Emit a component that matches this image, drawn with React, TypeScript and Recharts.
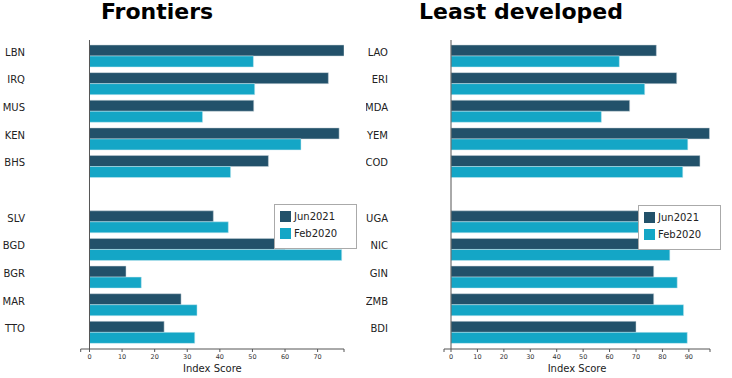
import React from "react";
import { BarChart, Bar, XAxis, YAxis, ReferenceLine, Legend } from "recharts";

const frontierCountries = ["LBN", "IRQ", "MUS", "KEN", "BHS", "", "SLV", "BGD", "BGR", "MAR", "TTO"];
const frontierJun2021 = [78.1, 73.3, 50.4, 76.6, 54.9, null, 38.0, 60.0, 11.2, 28.1, 22.9];
const frontierFeb2020 = [50.3, 50.7, 34.7, 64.9, 43.3, null, 42.6, 77.4, 15.9, 33.0, 32.3];

const ldcCountries = ["LAO", "ERI", "MDA", "YEM", "COD", "", "UGA", "NIC", "GIN", "ZMB", "BDI"];
const ldcJun2021 = [77.7, 85.4, 67.6, 97.8, 94.2, null, 80.0, 78.0, 76.7, 76.7, 70.0];
const ldcFeb2020 = [63.7, 73.3, 56.9, 89.6, 87.7, null, 84.0, 82.8, 85.6, 88.0, 89.4];

const frontierTicks = [-2.7, 0, 10, 20, 30, 40, 50, 60, 70, 78.1];
const ldcTicks = [-2.65, 0, 10, 20, 30, 40, 50, 60, 70, 80, 90, 98];

const DARK = "#22516a";
const LIGHT = "#14a6c6";
const FONT = "'DejaVu Sans', Verdana, sans-serif";

const buildRows = (names: string[], jun: (number | null)[], feb: (number | null)[]) =>
  names.map((name, i) => ({ name, Jun2021: jun[i], Feb2020: feb[i] }));

function LegendBox() {
  const items = [
    { label: "Jun2021", color: DARK },
    { label: "Feb2020", color: LIGHT },
  ];
  return (
    <div
      style={{
        boxSizing: "border-box",
        width: 83,
        height: 45,
        background: "#fff",
        border: "1.5px solid #aaa",
        padding: "3px 0 0 5px",
        fontFamily: FONT,
        fontSize: 10,
        color: "#222",
      }}
    >
      {items.map((it) => (
        <div key={it.label} style={{ display: "flex", alignItems: "center", height: 17 }}>
          <span style={{ width: 11, height: 11, background: it.color, marginRight: 3 }} />
          {it.label}
        </div>
      ))}
    </div>
  );
}

interface PanelProps {
  title: string;
  titleCenter: number;
  names: string[];
  jun: (number | null)[];
  feb: (number | null)[];
  domain: [number, number];
  ticks: number[];
  left: number;
  labelX: number;
  legendLeft: number;
  legendTop: number;
}

function Panel(p: PanelProps) {
  const rows = buildRows(p.names, p.jun, p.feb);
  return (
    <div style={{ position: "absolute", left: p.left, top: 0, width: 366, height: 378 }}>
      <div
        style={{
          position: "absolute",
          left: p.titleCenter - 150,
          width: 300,
          top: 1,
          textAlign: "center",
          fontFamily: FONT,
          fontWeight: "bold",
          fontSize: 22,
          lineHeight: "22px",
          color: "#000",
        }}
      >
        {p.title}
      </div>
      <BarChart
        width={366}
        height={378}
        data={rows}
        layout="vertical"
        margin={{ top: 40, right: 22, bottom: 0, left: 0 }}
        barGap={0}
      >
        <XAxis
          type="number"
          domain={p.domain}
          allowDataOverflow
          ticks={p.ticks}
          interval={0}
          tickFormatter={(v: number) => (v >= 0 && v % 10 === 0 ? String(v) : "")}
          height={29}
          tickSize={3}
          tickMargin={2}
          stroke="#555"
          tick={{ fontSize: 6.5, fill: "#333", fontFamily: FONT }}
          label={{ value: "Index Score", position: "insideBottom", offset: 6, fontSize: 10, fill: "#222", fontFamily: FONT }}
        />
        <YAxis
          type="category"
          dataKey="name"
          width={p.left === 0 ? 80.7 : 78}
          axisLine={false}
          tickLine={false}
          padding={{ top: 2, bottom: 3 }}
          tick={(t: any) => (
            <text
              x={p.labelX}
              y={t.y - 3.5}
              textAnchor="end"
              dominantBaseline="central"
              fontSize={10}
              fill="#222"
              fontFamily={FONT}
            >
              {t.payload.value}
            </text>
          )}
        />
        <ReferenceLine x={0} stroke="#555" strokeWidth={1} />
        <Bar dataKey="Jun2021" fill={DARK} barSize={11} stroke="#c8d4da" strokeWidth={0.5} isAnimationActive={false} />
        <Bar dataKey="Feb2020" fill={LIGHT} barSize={11} stroke="#c8e8f0" strokeWidth={0.5} isAnimationActive={false} />
        <Legend
          layout="vertical"
          align="center"
          verticalAlign="middle"
          wrapperStyle={{ left: p.legendLeft, top: p.legendTop, width: 83, height: 45 }}
          content={() => <LegendBox />}
        />
      </BarChart>
    </div>
  );
}

export default function App() {
  return (
    <div style={{ position: "absolute", left: 0, top: 0, width: 732, height: 378, background: "#fff" }}>
      <Panel
        title="Frontiers"
        titleCenter={157}
        names={frontierCountries}
        jun={frontierJun2021}
        feb={frontierFeb2020}
        domain={[-2.7, 78.1]}
        ticks={frontierTicks}
        left={0}
        labelX={25}
        legendLeft={274}
        legendTop={204}
      />
      <Panel
        title="Least developed"
        titleCenter={155}
        names={ldcCountries}
        jun={ldcJun2021}
        feb={ldcFeb2020}
        domain={[-2.65, 98]}
        ticks={ldcTicks}
        left={366}
        labelX={22}
        legendLeft={272}
        legendTop={205}
      />
    </div>
  );
}
